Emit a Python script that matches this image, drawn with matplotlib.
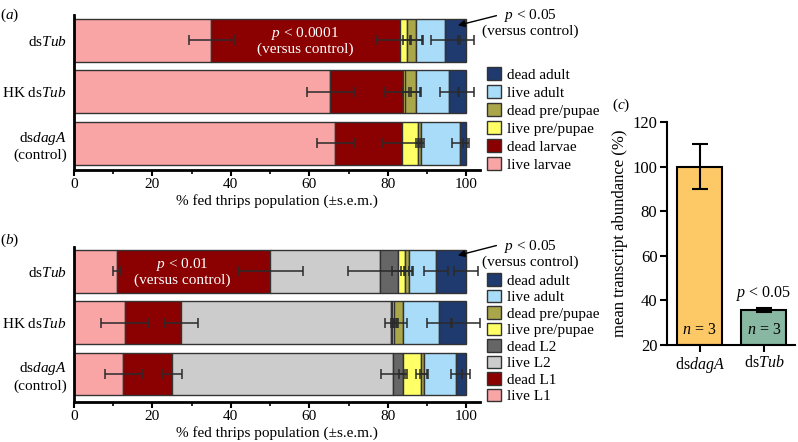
import numpy as np
import matplotlib
matplotlib.use("Agg")
import matplotlib.pyplot as plt
from matplotlib.ticker import MultipleLocator

plt.rcParams["font.family"] = ["Liberation Serif", "DejaVu Serif"]
plt.rcParams["mathtext.fontset"] = "custom"
plt.rcParams["mathtext.rm"] = "Liberation Serif"
plt.rcParams["mathtext.it"] = "Liberation Serif:italic"

groups = [r"ds$\mathit{Tub}$", r"HK ds$\mathit{Tub}$", "ds$\\mathit{dagA}$\n(control)"]

# panel (a): segment widths (% of population), order = stages_a
stages_a = ["live larvae", "dead larvae", "live pre/pupae", "dead pre/pupae", "live adult", "dead adult"]
colors_a = ["#f9a5a5", "#8b0000", "#ffff66", "#aaa64a", "#a8dcf8", "#1f3a6e"]
a_dstub = [35.0, 48.0, 2.0, 2.2, 7.5, 5.3]
a_hk = [65.4, 18.4, 0.7, 2.7, 8.5, 4.3]
a_dag = [66.6, 17.1, 4.0, 0.8, 9.8, 1.7]
a_err_dstub = [5.8, 6.0, 1.0, 1.5, 3.6, 2.0]
a_err_hk = [6.1, 4.5, 0.8, 1.2, 2.5, 2.0]
a_err_dag = [4.7, 5.0, 0.6, 0.8, 2.0, 0.8]

# panel (b)
stages_b = ["live L1", "dead L1", "live L2", "dead L2", "live pre/pupae", "dead pre/pupae", "live adult", "dead adult"]
colors_b = ["#f9a5a5", "#8b0000", "#cccccc", "#666666", "#ffff66", "#aaa64a", "#a8dcf8", "#1f3a6e"]
b_dstub = [10.9, 39.1, 28.1, 4.5, 1.7, 1.1, 6.9, 7.7]
b_hk = [12.9, 14.4, 53.6, 0.3, 0.5, 2.1, 9.2, 7.0]
b_dag = [12.6, 12.5, 56.2, 2.5, 4.8, 0.6, 8.3, 2.5]
b_err_dstub = [1.0, 8.3, 8.2, 1.5, 1.0, 1.0, 3.0, 3.0]
b_err_hk = [6.0, 4.4, 1.5, 0.3, 0.3, 1.2, 3.0, 3.5]
b_err_dag = [4.8, 2.5, 3.0, 1.0, 1.5, 1.0, 1.5, 1.0]

# panel (c)
c_labels = [r"ds$\mathit{dagA}$", r"ds$\mathit{Tub}$"]
c_values = [100.0, 35.8]
c_err = [10.0, 1.0]
c_colors = ["#fdc866", "#88b7a2"]


def stacked(ax, rows, errs, stages, colors, ylim):
    y = np.arange(len(rows))[::-1]
    rows = np.array(rows)
    errs = np.array(errs)
    left = np.zeros(len(rows))
    for i, name in enumerate(stages):
        ax.barh(y, rows[:, i], left=left, height=0.835, color=colors[i],
                edgecolor="#333333", lw=1, label=name)
        left = left + rows[:, i]
    ends = np.cumsum(rows, axis=1)
    for i in range(len(stages)):
        ax.errorbar(ends[:, i], y, xerr=errs[:, i], fmt="none", ecolor="#2a2a2a",
                    elinewidth=1.1, capsize=3.5, capthick=1.1, zorder=5, clip_on=False)
    ax.set_yticks(y)
    ax.set_yticklabels(groups, fontsize=11)
    ax.tick_params(axis="y", length=0, pad=5)
    ax.set_ylim(*ylim)
    ax.set_xlim(0, 103.5)
    ax.xaxis.set_major_locator(MultipleLocator(20))
    ax.xaxis.set_minor_locator(MultipleLocator(10))
    ax.tick_params(axis="x", which="major", length=4, width=1.5, labelsize=11, pad=2)
    ax.tick_params(axis="x", which="minor", length=3, width=1.2)
    for s in ["top", "right"]:
        ax.spines[s].set_visible(False)
    ax.spines["left"].set_linewidth(2)
    ax.spines["bottom"].set_linewidth(2)
    ax.set_xlabel("% fed thrips population (±s.e.m.)", fontsize=11, labelpad=2)
    h, l = ax.get_legend_handles_labels()
    return h[::-1], l[::-1]


fig = plt.figure(figsize=(7.98, 4.42), dpi=100)
ax_a = fig.add_axes([0.0927, 0.6154, 0.5087, 0.3507])
ax_b = fig.add_axes([0.0927, 0.0905, 0.5087, 0.3507])
ax_c = fig.add_axes([0.836, 0.2195, 0.160, 0.5045])

h, l = stacked(ax_a, [a_dstub, a_hk, a_dag], [a_err_dstub, a_err_hk, a_err_dag],
               stages_a, colors_a, (-0.515, 2.495))
fig.legend(h, l, loc="upper left", bbox_to_anchor=(0.61, 0.848), frameon=False,
           fontsize=11, handlelength=0.9, handleheight=0.9, handletextpad=0.4,
           labelspacing=0.22, borderaxespad=0, borderpad=0)

h, l = stacked(ax_b, [b_dstub, b_hk, b_dag], [b_err_dstub, b_err_hk, b_err_dag],
               stages_b, colors_b, (-0.546, 2.478))
fig.legend(h, l, loc="upper left", bbox_to_anchor=(0.61, 0.382), frameon=False,
           fontsize=11, handlelength=0.9, handleheight=0.9, handletextpad=0.4,
           labelspacing=0.125, borderaxespad=0, borderpad=0)

# in-bar annotations
ax_a.text(59, 2.0, "$p$ < 0.0001\n(versus control)", color="white", ha="center",
          va="center", fontsize=11, linespacing=1.1)
ax_b.text(27.5, 2.0, "$p$ < 0.01\n(versus control)", color="white", ha="center",
          va="center", fontsize=11, linespacing=1.1)

# arrows to dead adult
for ax, head, tail in [(ax_a, 2.28, 2.495), (ax_b, 2.30, 2.52)]:
    ax.annotate("", xy=(97.2, head), xytext=(108.4, tail),
                arrowprops=dict(arrowstyle="-|>", color="black", lw=1, mutation_scale=10),
                annotation_clip=False)
    ax.text(116.3, 2.35, "$p$ < 0.05\n(versus control)", ha="center", va="center",
            fontsize=11, linespacing=1.0, clip_on=False)

fig.text(0.0, 0.966, "($a$)", fontsize=11, va="center")
fig.text(0.0, 0.457, "($b$)", fontsize=11, va="center")

# panel (c)
xc = np.arange(len(c_values))
ax_c.bar(xc, np.array(c_values) - 20, bottom=20, width=0.7, color=c_colors,
         edgecolor="black", lw=1.5)
ax_c.errorbar(xc, c_values, yerr=c_err, fmt="none", ecolor="black", elinewidth=1.5,
              capsize=6, capthick=1.5)
ax_c.set_ylim(20, 120)
ax_c.set_xlim(-0.504, 1.48)
ax_c.set_yticks(np.arange(20, 121, 20))
ax_c.set_xticks(xc)
ax_c.set_xticklabels(c_labels, fontsize=11.5)
ax_c.tick_params(axis="y", length=5, width=1.5, labelsize=12, pad=2)
ax_c.tick_params(axis="x", length=5, width=1.5, pad=2)
for s in ["top", "right"]:
    ax_c.spines[s].set_visible(False)
ax_c.spines["left"].set_linewidth(1.5)
ax_c.spines["bottom"].set_linewidth(1.5)
ax_c.set_ylabel("mean transcript abundance (%)", fontsize=12, labelpad=3)
for x in xc:
    ax_c.text(x, 26.5, "$n$ = 3", ha="center", va="center", fontsize=11.5)
ax_c.text(1, 43, "$p$ < 0.05", ha="center", va="center", fontsize=11.5)
fig.text(0.767, 0.762, "($c$)", fontsize=11, va="center")

fig.savefig("out.png", dpi=100)
